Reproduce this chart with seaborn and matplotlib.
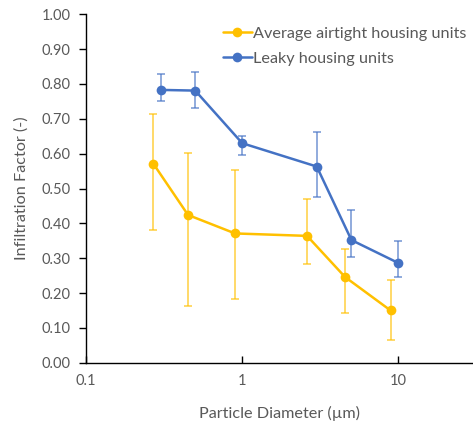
import numpy as np
import pandas as pd
import matplotlib
matplotlib.use("Agg")
import matplotlib.pyplot as plt
import seaborn as sns

# data
airtight_x = [0.27, 0.45, 0.9, 2.6, 4.55, 8.9]
airtight_y = [0.571, 0.424, 0.371, 0.364, 0.246, 0.150]
airtight_low = [0.380, 0.162, 0.184, 0.284, 0.142, 0.065]
airtight_high = [0.715, 0.602, 0.553, 0.469, 0.325, 0.236]

leaky_x = [0.3, 0.5, 1.0, 3.0, 5.0, 10.0]
leaky_y = [0.783, 0.781, 0.630, 0.563, 0.352, 0.286]
leaky_low = [0.750, 0.731, 0.596, 0.476, 0.302, 0.245]
leaky_high = [0.829, 0.833, 0.650, 0.663, 0.437, 0.348]

series_names = ["Average airtight housing units", "Leaky housing units"]
y_ticks = [0.0, 0.1, 0.2, 0.3, 0.4, 0.5, 0.6, 0.7, 0.8, 0.9, 1.0]
x_ticks = [0.1, 1, 10]
x_ticklabels = ["0.1", "1", "10"]

YELLOW = "#FFC000"
BLUE = "#4472C4"
GREY = "#595959"

sns.set_style("white")
plt.rcParams["font.family"] = ["Lato", "DejaVu Sans"]

df = pd.concat([
    pd.DataFrame({"d": airtight_x, "f": airtight_y, "s": series_names[0]}),
    pd.DataFrame({"d": leaky_x, "f": leaky_y, "s": series_names[1]}),
])

fig = plt.figure(figsize=(4.73, 4.24), dpi=100)
ax = fig.add_axes([86 / 473, 1 - 362.7 / 424, 1 - 86 / 473, (362.7 - 14.3) / 424])

# error bars first, under the lines
for xs, ys, lo, hi, c in [
    (airtight_x, airtight_y, airtight_low, airtight_high, YELLOW),
    (leaky_x, leaky_y, leaky_low, leaky_high, BLUE),
]:
    ys = np.array(ys)
    err = [ys - np.array(lo), np.array(hi) - ys]
    ax.errorbar(xs, ys, yerr=err, fmt="none", ecolor=c, elinewidth=1.1,
                capsize=3, capthick=1.1, alpha=0.75, zorder=2)

sns.lineplot(data=df, x="d", y="f", hue="s", palette=[YELLOW, BLUE],
             marker="o", markersize=7, markeredgewidth=0, linewidth=1.8,
             sort=False, estimator=None, ax=ax, zorder=3)

ax.set_xscale("log")
ax.set_xlim(0.1, 30)
ax.set_ylim(0, 1.0)
ax.set_yticks(y_ticks)
ax.set_yticklabels([f"{v:.2f}" for v in y_ticks])
ax.set_xticks(x_ticks)
ax.set_xticklabels(x_ticklabels)
ax.xaxis.set_minor_locator(matplotlib.ticker.NullLocator())

ax.tick_params(axis="y", direction="out", length=5, width=1, color="black",
               labelsize=10.5, labelcolor=GREY, pad=6, left=True)
ax.tick_params(axis="x", direction="in", length=5, width=1, color="black",
               labelsize=10.5, labelcolor=GREY, pad=8, bottom=True)

for side in ["top", "right"]:
    ax.spines[side].set_visible(False)
for side in ["left", "bottom"]:
    ax.spines[side].set_color("black")
    ax.spines[side].set_linewidth(1)

ax.set_xlabel("Particle Diameter (\u00b5m)", fontsize=11.7, color=GREY, labelpad=13)
ax.set_ylabel("Infiltration Factor (-)", fontsize=11.7, color=GREY, labelpad=9)

leg = ax.legend(loc="upper left", bbox_to_anchor=(0.325, 0.997), frameon=False,
                fontsize=11.7, handlelength=1.75, handletextpad=0.1,
                labelspacing=0.65, borderaxespad=0.3)
for t in leg.get_texts():
    t.set_color(GREY)

fig.savefig("out.png", dpi=100)
